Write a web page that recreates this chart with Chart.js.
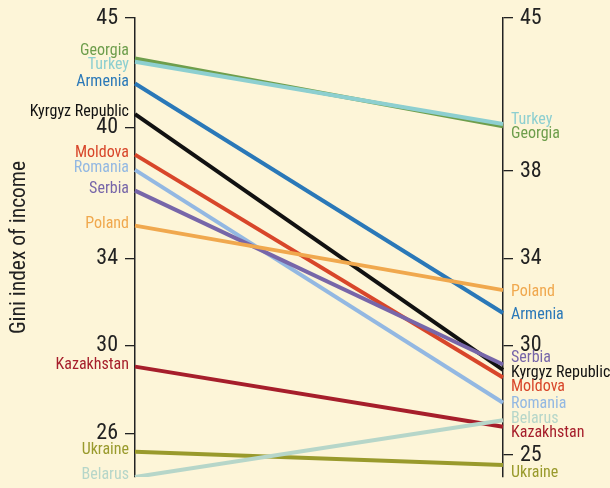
<!DOCTYPE html>
<html>
<head>
<meta charset="utf-8">
<script src="https://cdn.jsdelivr.net/npm/chart.js@4.4.1/dist/chart.umd.min.js"></script>
<style>
  html, body { margin: 0; padding: 0; background: #fdf5d8; }
  #wrap { width: 610px; height: 488px; }
</style>
</head>
<body>
<div id="wrap"><canvas id="chart"></canvas></div>
<script>
// Gini index, earlier year (left axis) and later year (right axis)
const countries = ["Georgia", "Turkey", "Armenia", "Kyrgyz Republic", "Moldova", "Romania",
                   "Serbia", "Poland", "Kazakhstan", "Ukraine", "Belarus"]
const giniStart = [43.15, 43.0, 42.0, 40.6, 38.75, 38.05, 37.1, 35.5, 29.05, 25.15, 24.0]
const giniEnd   = [40.05, 40.15, 31.5, 28.9, 28.55, 27.4, 29.15, 32.55, 26.3, 24.55, 26.6]
const lineColors = ["#6e9e4c", "#8dcfd0", "#2a78b8", "#111111", "#d8462a", "#93b8e2",
                    "#7766a9", "#f0a84e", "#a61e2b", "#999a2c", "#b6d6c9"]
const leftTicks  = [45, 40, 34, 30, 26]
const rightTicks = [45, 38, 34, 30, 25]

const NARROW = "'Liberation Sans Narrow', 'Arial Narrow', 'Roboto Condensed', sans-serif"

// spread labels vertically so neighbours don't overlap
function spreadLabels(items, gap) {
    items.sort((a, b) => a.y - b.y)
    let groups = items.map(it => ({ members: [it], top: it.y }))
    let merged = true
    while (merged) {
        merged = false
        for (let i = 0; i < groups.length - 1; i++) {
            const a = groups[i], b = groups[i + 1]
            if (a.top + a.members.length * gap > b.top) {
                const members = a.members.concat(b.members)
                const mean = members.reduce((s, m) => s + m.y, 0) / members.length
                groups.splice(i, 2, { members, top: mean - (members.length - 1) * gap / 2 })
                merged = true
                break
            }
        }
    }
    groups.forEach(g => g.members.forEach((m, k) => { m.ly = g.top + k * gap }))
    return items
}

// nudge for labels sitting on a tick label
const labelNudge = { right: { "Ukraine": 6 } }

const countryLabels = {
    id: "countryLabels",
    afterDatasetsDraw(chart) {
        const { ctx, chartArea } = chart
        const yScale = chart.scales.y
        ctx.save()
        ctx.font = "16px " + NARROW
        ctx.textBaseline = "middle"

        const left = spreadLabels(countries.map((c, i) => ({ i, y: yScale.getPixelForValue(giniStart[i]) })), 14.5)
        ctx.textAlign = "right"
        left.forEach(it => {
            ctx.fillStyle = lineColors[it.i]
            ctx.fillText(countries[it.i], chartArea.left - 6, it.ly - 2)
        })

        const right = spreadLabels(countries.map((c, i) => ({ i, y: yScale.getPixelForValue(giniEnd[i]) })), 14.5)
        ctx.textAlign = "left"
        right.forEach(it => {
            const nudge = labelNudge.right[countries[it.i]] || 0
            ctx.fillStyle = lineColors[it.i]
            ctx.fillText(countries[it.i], chartArea.right + 8, it.ly + 2 + nudge)
        })
        ctx.restore()
    }
}

const axisStyle = (ticks, width) => ({
    min: 24,
    max: 45,
    afterBuildTicks: scale => { scale.ticks = ticks.map(v => ({ value: v })) },
    afterFit: scale => {
        scale.width = width
        scale.paddingTop = 0
        scale.paddingBottom = 0
    },
    grid: { drawOnChartArea: false, drawTicks: true, tickLength: 10, color: "#222", lineWidth: 1.3 },
    border: { display: true, color: "#222", width: 1.5 },
    ticks: { autoSkip: false, padding: 7, color: "#222", font: { family: NARROW, size: 22 } }
})

const yLeft = axisStyle(leftTicks, 135)
yLeft.position = "left"
yLeft.title = {
    display: true,
    text: "Gini index of income",
    color: "#222",
    padding: { top: 7 },
    font: { family: NARROW, size: 21.5 }
}
const yRight = axisStyle(rightTicks, 107)
yRight.position = "right"

new Chart(document.getElementById("chart"), {
    type: "line",
    data: {
        labels: ["start", "end"],
        datasets: countries.map((c, i) => ({
            label: c,
            data: [giniStart[i], giniEnd[i]],
            borderColor: lineColors[i],
            borderWidth: 4,
            pointRadius: 0,
            yAxisID: "y"
        })).reverse()
    },
    options: {
        responsive: true,
        maintainAspectRatio: false,
        animation: false,
        layout: { padding: { top: 18, bottom: 11, left: 0, right: 0 } },
        plugins: { legend: { display: false }, tooltip: { enabled: false } },
        scales: {
            x: { display: false, offset: false },
            y: yLeft,
            y2: yRight
        }
    },
    plugins: [countryLabels]
})
</script>
</body>
</html>
